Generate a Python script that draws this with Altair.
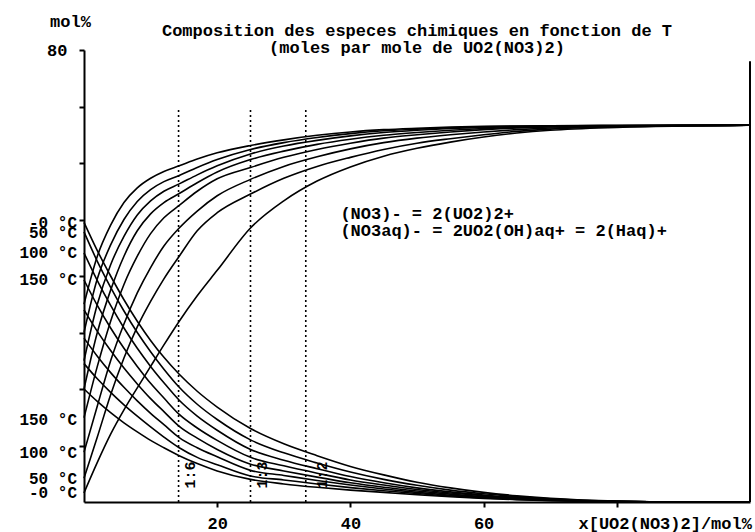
import altair as alt
import pandas as pd

FONT = "Liberation Mono"
FS = 17
FS_SMALL = 16

x_grid = [0, 2, 4, 6, 8, 10, 12, 14.3, 17, 20, 25, 30, 35, 40, 45, 50, 55, 60, 65, 70, 80, 90, 100]

# rising curves (one per temperature)
r1 = [1.6, 7, 12, 16.3, 20.2, 24, 27.8, 32, 36.5, 41, 48.5, 53.3, 56.8, 59.3, 61.2, 62.6, 63.7, 64.6, 65.3, 65.8, 66.3, 66.55, 66.67]
r2 = [4.2, 11.5, 19, 25.5, 31, 35.5, 39.5, 43.5, 48, 51.2, 54.5, 57.3, 59.4, 61, 62.4, 63.5, 64.3, 65, 65.6, 66, 66.4, 66.6, 66.67]
r3 = [8.8, 17, 25, 31.5, 37, 41.5, 45.3, 48.5, 51.5, 54.2, 57.1, 59.4, 61.1, 62.5, 63.6, 64.4, 65, 65.5, 65.9, 66.2, 66.5, 66.65, 66.67]
r4 = [14.9, 24, 32, 38.5, 43.5, 47.5, 50.3, 52.5, 55, 57.2, 59.2, 61, 62.4, 63.5, 64.4, 65, 65.5, 65.9, 66.2, 66.4, 66.55, 66.65, 66.67]
r5 = [20, 30, 37.5, 43.5, 48, 51, 53, 54.6, 56.5, 58.4, 60.6, 62.1, 63.3, 64.2, 64.9, 65.4, 65.8, 66.1, 66.3, 66.45, 66.6, 66.65, 66.67]
r6 = [25, 35, 42, 47, 50.8, 53.3, 55, 56.3, 57.9, 59.5, 61.6, 63, 64, 64.8, 65.4, 65.8, 66.1, 66.3, 66.45, 66.55, 66.62, 66.66, 66.67]
r7 = [30, 39.5, 45.5, 50, 53.2, 55.3, 56.7, 57.8, 59.2, 60.6, 62.4, 63.6, 64.5, 65.2, 65.7, 66, 66.25, 66.4, 66.5, 66.58, 66.63, 66.66, 66.67]
r8 = [35, 43.5, 49, 53, 55.6, 57.3, 58.5, 59.5, 60.7, 61.8, 63.1, 64.1, 64.9, 65.5, 65.9, 66.15, 66.35, 66.48, 66.55, 66.6, 66.64, 66.66, 66.67]

# falling curves (one per temperature)
f1 = [49.5, 44.5, 40, 35.8, 32, 28.6, 25.6, 22.6, 19.6, 16.8, 13, 10.3, 8.2, 6.3, 4.8, 3.5, 2.5, 1.7, 1.1, 0.65, 0.15, 0, 0]
f2 = [47.8, 42.6, 38, 33.8, 30, 26.6, 23.5, 20.3, 17.3, 14.6, 11, 8.7, 6.9, 5.3, 4, 2.95, 2.1, 1.45, 0.95, 0.55, 0.12, 0, 0]
f3 = [44.1, 39.2, 34.8, 30.8, 27.2, 24, 21.1, 18, 15.2, 12.7, 9.3, 7.4, 5.9, 4.5, 3.4, 2.5, 1.8, 1.25, 0.8, 0.48, 0.1, 0, 0]
f4 = [39.3, 34.8, 30.8, 27.2, 24, 21, 18.4, 15.5, 13.1, 10.9, 7.9, 6.4, 5.1, 3.9, 3, 2.2, 1.6, 1.1, 0.7, 0.42, 0.09, 0, 0]
f5 = [34, 30.2, 26.8, 23.7, 20.9, 18.3, 16, 13.4, 11.3, 9.3, 6.7, 5.5, 4.4, 3.4, 2.6, 1.95, 1.4, 0.95, 0.62, 0.37, 0.08, 0, 0]
f6 = [29, 25.8, 22.9, 20.3, 17.9, 15.7, 13.7, 11.4, 9.6, 8, 5.6, 4.7, 3.8, 3, 2.3, 1.7, 1.2, 0.82, 0.54, 0.32, 0.07, 0, 0]
f7 = [24.5, 21.8, 19.4, 17.2, 15.2, 13.3, 11.5, 9.6, 7.9, 6.6, 4.6, 3.9, 3.2, 2.55, 2, 1.5, 1.05, 0.72, 0.47, 0.28, 0.06, 0, 0]
f8 = [20, 17.8, 15.8, 14, 12.4, 10.9, 9.6, 8.2, 6.8, 5.5, 4, 3.2, 2.6, 2.1, 1.7, 1.3, 0.92, 0.63, 0.42, 0.25, 0.05, 0, 0]

# temperature labels at the left axis
temp_labels = ["-0 °C", "50 °C", "100 °C", "150 °C", "150 °C", "100 °C", "50 °C", "-0 °C"]
temp_label_y = [49.4, 47.6, 44.1, 39.3, 14.5, 8.7, 4.1, 1.6]

# stoichiometric ratio lines
ratio_x = [14.2, 25.0, 33.3]
ratio_top = 69.8
ratio_labels = ["1:6", "1:3", "1:2"]
ratio_label_x = [15.9, 26.7, 35.7]
ratio_label_y = 4.8

legend_lines = ["(NO3)- = 2(UO2)2+", "(NO3aq)- = 2UO2(OH)aq+ = 2(Haq)+"]
legend_x = 38.5
legend_y = [51.0, 48.0]

rows = []
for name, ys in [("r1", r1), ("r2", r2), ("r3", r3), ("r4", r4), ("r5", r5), ("r6", r6), ("r7", r7), ("r8", r8),
                 ("f1", f1), ("f2", f2), ("f3", f3), ("f4", f4), ("f5", f5), ("f6", f6), ("f7", f7), ("f8", f8)]:
    for xv, yv in zip(x_grid, ys):
        rows.append({"series": name, "x": xv, "y": yv})
df = pd.DataFrame(rows)

xscale = alt.Scale(domain=[0, 100], nice=False, zero=False)
yscale = alt.Scale(domain=[0, 80], nice=False, zero=False)

xaxis = alt.Axis(values=[20, 40, 60, 80], labelExpr="datum.value == 80 ? '' : datum.label",
                 title="x[UO2(NO3)2]/mol%", titleAlign="left", titleX=494, titleY=13,
                 titleBaseline="top", titleFont=FONT, titleFontSize=FS, titleFontWeight="bold",
                 tickSize=5, labelPadding=8, labelFlush=False)
yaxis = alt.Axis(values=[10, 20, 30, 40, 50, 60, 70, 80], labelExpr="datum.value == 80 ? '80' : ''",
                 title="mol%", titleAngle=0, titleX=-14, titleY=-29, titleAlign="center",
                 titleBaseline="middle", titleFont=FONT, titleFontSize=FS, titleFontWeight="bold",
                 tickSize=5, labelPadding=12, labelFlush=False)

lines = alt.Chart(df).mark_line(color="black", strokeWidth=1.6, interpolate="monotone").encode(
    x=alt.X("x:Q", scale=xscale, axis=xaxis),
    y=alt.Y("y:Q", scale=yscale, axis=yaxis),
    detail="series:N",
)

ratio_df = pd.DataFrame({"x": ratio_x, "y0": [0] * 3, "y1": [ratio_top] * 3})
ratio_rules = alt.Chart(ratio_df).mark_rule(color="black", strokeWidth=1.6, strokeDash=[2, 3]).encode(
    x="x:Q", y="y0:Q", y2="y1:Q"
)

rlab_df = pd.DataFrame({"x": ratio_label_x, "y": [ratio_label_y] * 3, "t": ratio_labels})
ratio_text = alt.Chart(rlab_df).mark_text(font=FONT, fontSize=15, fontWeight="bold", angle=270,
                                          align="center", baseline="middle", color="black").encode(
    x="x:Q", y="y:Q", text="t:N"
)

tl_df = pd.DataFrame({"x": [0] * len(temp_labels), "y": temp_label_y, "t": temp_labels})
temp_text = alt.Chart(tl_df).mark_text(font=FONT, fontSize=FS_SMALL, fontWeight="bold", align="right",
                                       baseline="middle", dx=-7, color="black").encode(
    x="x:Q", y="y:Q", text="t:N"
)

lg_df = pd.DataFrame({"x": [legend_x] * 2, "y": legend_y, "t": legend_lines})
legend_text = alt.Chart(lg_df).mark_text(font=FONT, fontSize=FS, fontWeight="bold", align="left",
                                         baseline="middle", color="black").encode(
    x="x:Q", y="y:Q", text="t:N"
)

right_border = alt.Chart(pd.DataFrame({"x": [100], "y0": [0], "y1": [78]})).mark_rule(
    color="black", strokeWidth=2).encode(x="x:Q", y="y0:Q", y2="y1:Q")

chart = alt.layer(lines, ratio_rules, ratio_text, temp_text, legend_text, right_border).properties(
    width=666, height=452,
    autosize=alt.AutoSizeParams(type="none"),
    padding={"left": 84, "top": 50, "right": 5, "bottom": 30},
    background="white",
    title=alt.TitleParams(
        text=["Composition des especes chimiques en fonction de T", "(moles par mole de UO2(NO3)2)"],
        font=FONT, fontSize=FS, fontWeight="bold", color="black", anchor="middle",
        lineHeight=17, offset=0, dy=45),
).configure_view(stroke=None).configure_axis(
    domainColor="black", domainWidth=2, tickColor="black", tickWidth=2, grid=False,
    labelFont=FONT, labelFontSize=FS, labelFontWeight="bold", labelColor="black", titleColor="black"
)

chart.save("out.html", embed_options={"renderer": "svg", "actions": False})
